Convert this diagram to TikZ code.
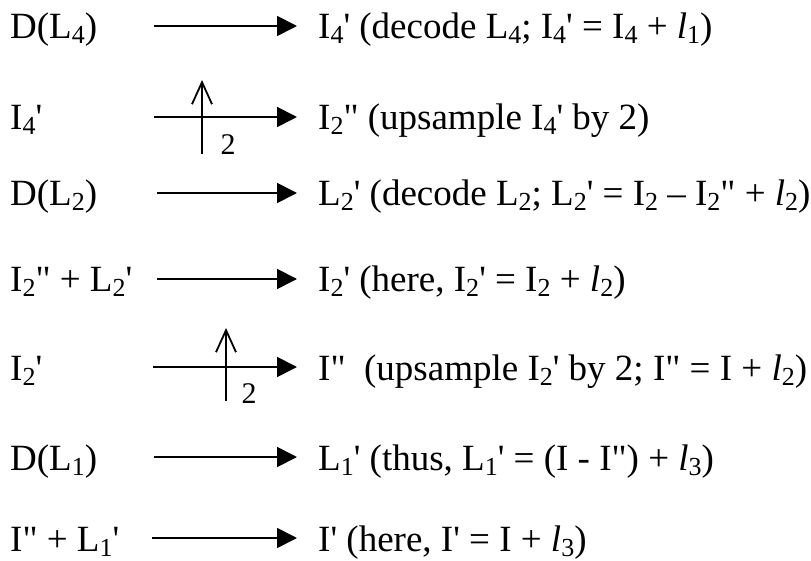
\documentclass[tikz,border=0pt]{standalone}
\usepackage{fontspec}
\setmainfont{Liberation Serif}
\usetikzlibrary{arrows.meta}
\newcommand{\sbs}[1]{\raisebox{-5pt}{\fontsize{26}{26}\selectfont #1}}
\newcommand{\pr}{\textquotesingle}
\newcommand{\dpr}{\textquotedbl}
\begin{document}
\begin{tikzpicture}[x=1pt, y=1pt,
      expr/.style={
        % The text:
        anchor=base west, inner sep=0pt,
        font=\fontsize{37}{37}\selectfont},
      flow/.style={line width=1.8pt, -{Triangle[length=20pt,width=20pt]}},
      upsample/.style={line width=1.8pt, -{Straight Barb[length=22pt,width=20pt]}}]
    \useasboundingbox (0,0) rectangle (811,-561);
    \node(dl4)[expr] at (10,-39) {D(L\sbs{4})};
    \coordinate(s1) at (154,-26);
    \coordinate(e1) at (297,-26);
    \path (s1) edge[flow] (e1);
    \node(i4p)[expr] at (318,-39) {I\sbs{4}\pr{} (decode L\sbs{4}; I\sbs{4}\pr{} = I\sbs{4} + \textit{l}\sbs{1})};

    \node(i4)[expr] at (10,-130) {I\sbs{4}\pr};
    \coordinate(s2) at (154,-117);
    \coordinate(e2) at (297,-117);
    \path (s2) edge[flow] (e2);
    \coordinate(u2s) at (202,-154);
    \coordinate(u2e) at (202,-80);
    \path (u2s) edge[upsample] (u2e);
    \node(two2)[font=\fontsize{30}{30}\selectfont, inner sep=0pt, anchor=base] at (228,-155) {2};
    \node(i2pp)[expr] at (318,-130) {I\sbs{2}\dpr{} (upsample I\sbs{4}\pr{} by 2)};

    \node(dl2)[expr] at (10,-206) {D(L\sbs{2})};
    \coordinate(s3) at (157,-193);
    \coordinate(e3) at (297,-193);
    \path (s3) edge[flow] (e3);
    \node(l2p)[expr] at (318,-206) {L\sbs{2}\pr{} (decode L\sbs{2}; L\sbs{2}\pr{} = I\sbs{2} – I\sbs{2}\dpr{} + \textit{l}\sbs{2})};

    \node(sum2)[expr] at (10,-292) {I\sbs{2}\dpr{} + L\sbs{2}\pr};
    \coordinate(s4) at (157,-279);
    \coordinate(e4) at (297,-279);
    \path (s4) edge[flow] (e4);
    \node(i2p)[expr] at (318,-292) {I\sbs{2}\pr{} (here, I\sbs{2}\pr{} = I\sbs{2} + \textit{l}\sbs{2})};

    \node(i2)[expr] at (10,-380) {I\sbs{2}\pr};
    \coordinate(s5) at (153,-367);
    \coordinate(e5) at (297,-367);
    \path (s5) edge[flow] (e5);
    \coordinate(u5s) at (226,-401);
    \coordinate(u5e) at (226,-328);
    \path (u5s) edge[upsample] (u5e);
    \node(two5)[font=\fontsize{30}{30}\selectfont, inner sep=0pt, anchor=base] at (249,-403) {2};
    \node(ipp)[expr] at (318,-380) {I\dpr{}\ \ (upsample I\sbs{2}\pr{} by 2; I\dpr{} = I + \textit{l}\sbs{2})};

    \node(dl1)[expr] at (10,-470) {D(L\sbs{1})};
    \coordinate(s6) at (154,-457);
    \coordinate(e6) at (297,-457);
    \path (s6) edge[flow] (e6);
    \node(l1p)[expr] at (318,-470) {L\sbs{1}\pr{} (thus, L\sbs{1}\pr{} = (I - I\dpr) + \textit{l}\sbs{3})};

    \node(sum1)[expr] at (10,-551) {I\dpr{} + L\sbs{1}\pr};
    \coordinate(s7) at (152,-538);
    \coordinate(e7) at (297,-538);
    \path (s7) edge[flow] (e7);
    \node(ip)[expr] at (318,-551) {I\pr{} (here, I\pr{} = I + \textit{l}\sbs{3})};
  \end{tikzpicture}
\end{document}
